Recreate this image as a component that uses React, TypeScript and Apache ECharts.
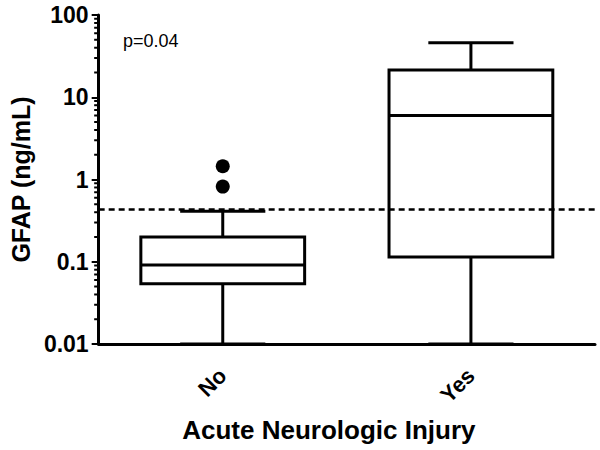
import React, { useEffect, useRef } from "react";
import * as echarts from "echarts";

const categories = ["No", "Yes"];
// [categoryIndex, lowerWhisker, Q1, median, Q3, upperWhisker]
const boxValues = [
  [0, 0.01, 0.054, 0.091, 0.2, 0.41],
  [1, 0.01, 0.114, 6.0, 21.5, 46],
];
const outliers = [
  [0, 1.45],
  [0, 0.82],
];
const cutoff = 0.44;
const minorTickValues = [
  0.02, 0.03, 0.04, 0.05, 0.06, 0.07, 0.08, 0.09,
  0.2, 0.3, 0.4, 0.5, 0.6, 0.7, 0.8, 0.9,
  2, 3, 4, 5, 6, 7, 8, 9,
  20, 30, 40, 50, 60, 70, 80, 90,
];

const FONT = "'Liberation Sans', Arial, Helvetica, sans-serif";

export default function App() {
  const ref = useRef<HTMLDivElement>(null);
  useEffect(() => {
    if (!ref.current) return;
    const chart = echarts.init(ref.current, null, { renderer: "svg" });
    const option: any = {
      animation: false,
      backgroundColor: "#ffffff",
      textStyle: { fontFamily: FONT },
      grid: { left: 93, right: 5, top: 15, bottom: 106 },
      xAxis: {
        type: "category",
        data: categories,
        boundaryGap: true,
        name: "Acute Neurologic Injury",
        nameLocation: "middle",
        nameGap: 73,
        nameTextStyle: {
          fontFamily: FONT,
          fontWeight: "bold",
          fontSize: 26,
          color: "#000",
          verticalAlign: "top",
          padding: [0, 36, 0, 0],
        },
        axisLine: { lineStyle: { color: "#000", width: 3 } },
        axisTick: { alignWithLabel: true, length: 10, lineStyle: { color: "#000", width: 2.5 } },
        axisLabel: {
          rotate: 45,
          margin: 28,
          color: "#000",
          fontFamily: FONT,
          fontWeight: "bold",
          fontSize: 22,
        },
        splitLine: { show: false },
      },
      yAxis: {
        type: "log",
        logBase: 10,
        min: 0.01,
        max: 100,
        name: "GFAP (ng/mL)",
        nameLocation: "middle",
        nameGap: 63,
        nameRotate: 90,
        nameTextStyle: {
          fontFamily: FONT,
          fontWeight: "bold",
          fontSize: 25,
          color: "#000",
        },
        axisLine: { show: true, lineStyle: { color: "#000", width: 3 } },
        axisTick: { show: true, length: 7, lineStyle: { color: "#000", width: 2 } },
        axisLabel: {
          margin: 10,
          color: "#000",
          fontFamily: FONT,
          fontWeight: "bold",
          fontSize: 23,
          formatter: (v: number) => String(parseFloat(Number(v).toPrecision(3))),
        },
        splitLine: { show: false },
      },
      graphic: [
        {
          type: "text",
          left: 123,
          top: 32,
          style: { text: "p=0.04", fontFamily: FONT, fontSize: 18, fill: "#000" },
        },
      ],
      series: [
        {
          type: "custom",
          name: "minorTicks",
          silent: true,
          clip: false,
          data: minorTickValues.map((v) => [0, v]),
          encode: { x: 0, y: 1 },
          renderItem: (params: any, api: any) => {
            const p = api.coord([api.value(0), api.value(1)]);
            const x0 = params.coordSys.x;
            return {
              type: "line",
              shape: { x1: x0 - 4.5, y1: p[1], x2: x0, y2: p[1] },
              style: { stroke: "#000", lineWidth: 2 },
            };
          },
        },
        {
          type: "custom",
          name: "boxes",
          silent: true,
          clip: false,
          data: boxValues,
          encode: { x: 0, y: [1, 2, 3, 4, 5] },
          renderItem: (params: any, api: any) => {
            const xi = api.value(0);
            const pts = [1, 2, 3, 4, 5].map((i) => api.coord([xi, api.value(i)]));
            const cx = pts[0][0];
            const band = params.coordSys.width / categories.length;
            const bw = band * 0.66;
            const cw = bw * 0.52;
            const st = { stroke: "#000", lineWidth: 3, fill: "none" };
            return {
              type: "group",
              children: [
                {
                  type: "rect",
                  shape: { x: cx - bw / 2, y: pts[3][1], width: bw, height: pts[1][1] - pts[3][1] },
                  style: { ...st },
                },
                { type: "line", shape: { x1: cx - bw / 2, y1: pts[2][1], x2: cx + bw / 2, y2: pts[2][1] }, style: { ...st } },
                { type: "line", shape: { x1: cx, y1: pts[3][1], x2: cx, y2: pts[4][1] }, style: { ...st } },
                { type: "line", shape: { x1: cx, y1: pts[1][1], x2: cx, y2: pts[0][1] }, style: { ...st } },
                { type: "line", shape: { x1: cx - cw / 2, y1: pts[4][1], x2: cx + cw / 2, y2: pts[4][1] }, style: { ...st } },
                { type: "line", shape: { x1: cx - cw / 2, y1: pts[0][1], x2: cx + cw / 2, y2: pts[0][1] }, style: { ...st } },
              ],
            };
          },
        },
        {
          type: "scatter",
          name: "outliers",
          data: outliers,
          symbol: "circle",
          symbolSize: 14,
          itemStyle: { color: "#000", opacity: 1 },
          silent: true,
          markLine: {
            silent: true,
            symbol: "none",
            label: { show: false },
            lineStyle: { color: "#000", width: 2.5, type: [6, 4], opacity: 1 },
            data: [{ yAxis: cutoff }],
          },
        },
      ],
    };
    chart.setOption(option);
    return () => chart.dispose();
  }, []);
  return (
    <div
      ref={ref}
      style={{ position: "fixed", left: 0, top: 0, width: 600, height: 450, background: "#fff" }}
    />
  );
}
